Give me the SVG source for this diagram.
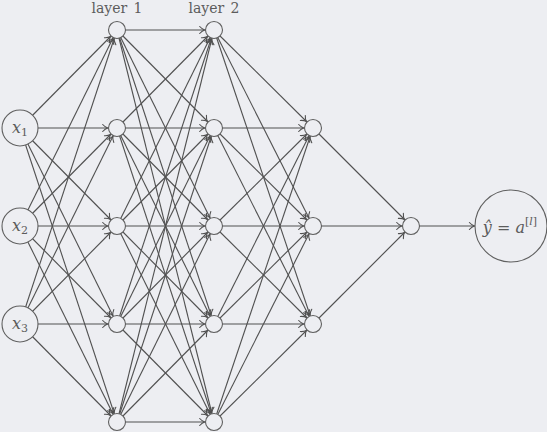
<svg xmlns="http://www.w3.org/2000/svg" width="547" height="432" viewBox="0 0 547 432">
<style>
.n{fill:#edeef2;stroke:#606060;stroke-width:1.1}
.t{font-family:'DejaVu Serif',serif;fill:#5c5c5c}
.i{font-style:italic}
</style>
<defs>
<marker id="a" markerUnits="userSpaceOnUse" orient="auto" refX="9.3" refY="0" markerWidth="20" markerHeight="20" viewBox="-10 -10 20 20" overflow="visible">
<path d="M-5,-3.5 C-3.3,-1.6 -1.3,-0.4 0,0 C-1.3,0.4 -3.3,1.6 -5,3.5" fill="none" stroke="#505050" stroke-width="1.1" stroke-linecap="round"/>
</marker>
<marker id="b" markerUnits="userSpaceOnUse" orient="auto" refX="36.6" refY="0" markerWidth="80" markerHeight="20" viewBox="-40 -10 80 20" overflow="visible">
<path d="M-5,-3.5 C-3.3,-1.6 -1.3,-0.4 0,0 C-1.3,0.4 -3.3,1.6 -5,3.5" fill="none" stroke="#505050" stroke-width="1.1" stroke-linecap="round"/>
</marker>
</defs>
<rect width="547" height="432" fill="#edeef2"/>
<g id="connectors" stroke="#505050" stroke-width="1.1" fill="none" marker-end="url(#a)">
<line x1="20" y1="128" x2="117" y2="30"/><line x1="20" y1="128" x2="117" y2="128"/><line x1="20" y1="128" x2="117" y2="226"/><line x1="20" y1="128" x2="117" y2="324"/><line x1="20" y1="128" x2="117" y2="422"/>
<line x1="20" y1="226" x2="117" y2="30"/><line x1="20" y1="226" x2="117" y2="128"/><line x1="20" y1="226" x2="117" y2="226"/><line x1="20" y1="226" x2="117" y2="324"/><line x1="20" y1="226" x2="117" y2="422"/>
<line x1="20" y1="324" x2="117" y2="30"/><line x1="20" y1="324" x2="117" y2="128"/><line x1="20" y1="324" x2="117" y2="226"/><line x1="20" y1="324" x2="117" y2="324"/><line x1="20" y1="324" x2="117" y2="422"/>
<line x1="117" y1="30" x2="214" y2="30"/><line x1="117" y1="30" x2="214" y2="128"/><line x1="117" y1="30" x2="214" y2="226"/><line x1="117" y1="30" x2="214" y2="324"/><line x1="117" y1="30" x2="214" y2="422"/>
<line x1="117" y1="128" x2="214" y2="30"/><line x1="117" y1="128" x2="214" y2="128"/><line x1="117" y1="128" x2="214" y2="226"/><line x1="117" y1="128" x2="214" y2="324"/><line x1="117" y1="128" x2="214" y2="422"/>
<line x1="117" y1="226" x2="214" y2="30"/><line x1="117" y1="226" x2="214" y2="128"/><line x1="117" y1="226" x2="214" y2="226"/><line x1="117" y1="226" x2="214" y2="324"/><line x1="117" y1="226" x2="214" y2="422"/>
<line x1="117" y1="324" x2="214" y2="30"/><line x1="117" y1="324" x2="214" y2="128"/><line x1="117" y1="324" x2="214" y2="226"/><line x1="117" y1="324" x2="214" y2="324"/><line x1="117" y1="324" x2="214" y2="422"/>
<line x1="117" y1="422" x2="214" y2="30"/><line x1="117" y1="422" x2="214" y2="128"/><line x1="117" y1="422" x2="214" y2="226"/><line x1="117" y1="422" x2="214" y2="324"/><line x1="117" y1="422" x2="214" y2="422"/>
<line x1="214" y1="30" x2="313" y2="128"/><line x1="214" y1="30" x2="313" y2="226"/><line x1="214" y1="30" x2="313" y2="324"/>
<line x1="214" y1="128" x2="313" y2="128"/><line x1="214" y1="128" x2="313" y2="226"/><line x1="214" y1="128" x2="313" y2="324"/>
<line x1="214" y1="226" x2="313" y2="128"/><line x1="214" y1="226" x2="313" y2="226"/><line x1="214" y1="226" x2="313" y2="324"/>
<line x1="214" y1="324" x2="313" y2="128"/><line x1="214" y1="324" x2="313" y2="226"/><line x1="214" y1="324" x2="313" y2="324"/>
<line x1="214" y1="422" x2="313" y2="128"/><line x1="214" y1="422" x2="313" y2="226"/><line x1="214" y1="422" x2="313" y2="324"/>
<line x1="313" y1="128" x2="411" y2="226"/><line x1="313" y1="226" x2="411" y2="226"/><line x1="313" y1="324" x2="411" y2="226"/>
<line x1="411" y1="226" x2="511" y2="226" marker-end="url(#b)"/>
</g>
<g id="in1"><circle class="n" cx="20" cy="128" r="18"/><text class="t" x="20" y="133" font-size="16" text-anchor="middle"><tspan class="i">x</tspan><tspan font-size="11" dy="3">1</tspan></text></g>
<g id="in2"><circle class="n" cx="20" cy="226" r="18"/><text class="t" x="20" y="231" font-size="16" text-anchor="middle"><tspan class="i">x</tspan><tspan font-size="11" dy="3">2</tspan></text></g>
<g id="in3"><circle class="n" cx="20" cy="324" r="18"/><text class="t" x="20" y="329" font-size="16" text-anchor="middle"><tspan class="i">x</tspan><tspan font-size="11" dy="3">3</tspan></text></g>
<g id="l1n1"><circle class="n" cx="117" cy="30" r="8.5"/></g>
<g id="l1n2"><circle class="n" cx="117" cy="128" r="8.5"/></g>
<g id="l1n3"><circle class="n" cx="117" cy="226" r="8.5"/></g>
<g id="l1n4"><circle class="n" cx="117" cy="324" r="8.5"/></g>
<g id="l1n5"><circle class="n" cx="117" cy="422" r="8.5"/></g>
<g id="l2n1"><circle class="n" cx="214" cy="30" r="8.5"/></g>
<g id="l2n2"><circle class="n" cx="214" cy="128" r="8.5"/></g>
<g id="l2n3"><circle class="n" cx="214" cy="226" r="8.5"/></g>
<g id="l2n4"><circle class="n" cx="214" cy="324" r="8.5"/></g>
<g id="l2n5"><circle class="n" cx="214" cy="422" r="8.5"/></g>
<g id="l3n1"><circle class="n" cx="313" cy="128" r="8.5"/></g>
<g id="l3n2"><circle class="n" cx="313" cy="226" r="8.5"/></g>
<g id="l3n3"><circle class="n" cx="313" cy="324" r="8.5"/></g>
<g id="l4n1"><circle class="n" cx="411" cy="226" r="8.5"/></g>
<g id="out"><circle class="n" cx="511" cy="226" r="36"/><text class="t" x="510" y="233" font-size="16" text-anchor="middle"><tspan class="i">ŷ</tspan> = <tspan class="i">a</tspan><tspan font-size="11" dy="-8">[<tspan class="i">l</tspan>]</tspan></text></g>
<g id="labels">
<text class="t" x="117" y="13" font-size="14" text-anchor="middle" word-spacing="2">layer 1</text>
<text class="t" x="214" y="13" font-size="14" text-anchor="middle" word-spacing="2">layer 2</text>
</g>
</svg>
